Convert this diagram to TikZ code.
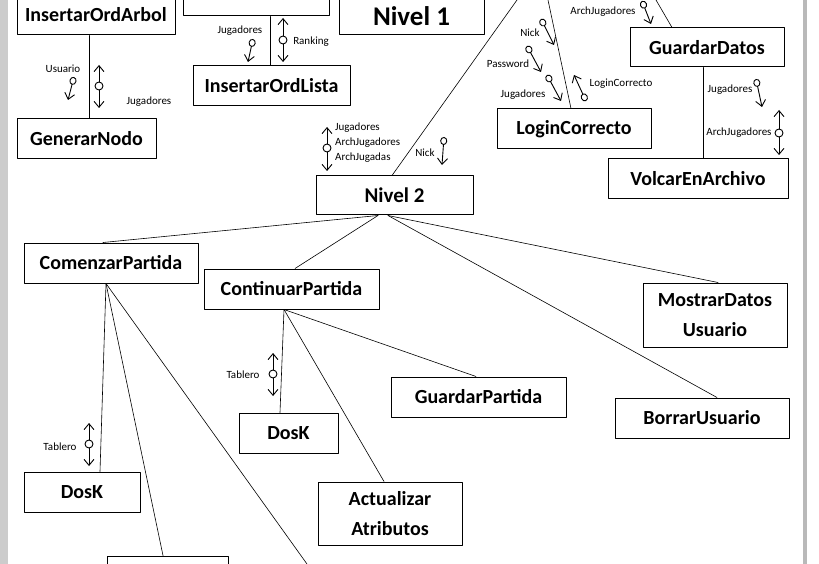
\documentclass[tikz,border=0pt]{standalone}
\usepackage{fontspec}
\setmainfont{Carlito}
\usetikzlibrary{arrows.meta}

\tikzset{
  caja/.style={draw, line width=1pt, inner sep=0pt, align=center,
    font=\fontsize{20}{30}\selectfont\bfseries},
  dato/.style={inner sep=0pt, font=\fontsize{11}{13}\selectfont},
  par/.style={line width=0.9pt,
    {Circle[open,length=8pt,width=7pt]}-{Straight Barb[length=6pt,width=10pt]}},
  doble/.style={line width=0.9pt,
    {Straight Barb[length=6pt,width=10pt]}-{Straight Barb[length=6pt,width=10pt]}},
  bola/.style={draw, fill=white, circle, inner sep=0pt, minimum size=8pt, line width=0.9pt},
  rama/.style={line width=0.6pt}
}

\begin{document}
\begin{tikzpicture}[x=1pt, y=-1pt, line join=round, line cap=round]
\useasboundingbox (0,0) rectangle (819,564);
\clip (0,0) rectangle (819,564);
% bordes de la pagina
\fill[gray!40] (0,0) rectangle (8,564);
\fill[gray!55] (803,0) rectangle (807,564);

% cajas de arriba
\node[caja, minimum width=158pt, minimum height=40pt] (arbol) at (96,15) {InsertarOrdArbol};
\node[caja, minimum width=146pt, minimum height=40pt] (arriba) at (256,-4) {};
\node[caja, minimum width=145pt, minimum height=38pt, font=\fontsize{27}{30}\selectfont\bfseries] (nivel1) at (411.5,16) {Nivel 1};
\node[caja, minimum width=157pt, minimum height=40pt] (lista) at (271.5,86) {InsertarOrdLista};
\node[caja, minimum width=139pt, minimum height=40pt] (nodo) at (86.5,139) {GenerarNodo};
\node[caja, minimum width=157pt, minimum height=39pt, font=\fontsize{21}{30}\selectfont\bfseries] (nivel2) at (394.5,195.5) {Nivel 2};
\node[caja, minimum width=154pt, minimum height=40pt] (login) at (574,129) {LoginCorrecto};
\node[caja, minimum width=154pt, minimum height=39pt] (guardar) at (707,47.5) {GuardarDatos};
\node[caja, minimum width=180pt, minimum height=40pt] (volcar) at (698,179) {VolcarEnArchivo};

% cajas de abajo
\node[caja, minimum width=174pt, minimum height=40pt] (comenzar) at (111,263) {ComenzarPartida};
\node[caja, minimum width=175pt, minimum height=40pt] (continuar) at (291.5,289) {ContinuarPartida};
\node[caja, minimum width=144pt, minimum height=64pt] (mostrar) at (715,315) {MostrarDatos\\Usuario};
\node[caja, minimum width=174pt, minimum height=40pt] (borrar) at (702,418) {BorrarUsuario};
\node[caja, minimum width=175pt, minimum height=40pt] (guardarp) at (478.5,397) {GuardarPartida};
\node[caja, minimum width=99pt, minimum height=40pt] (dosk2) at (288.5,433) {DosK};
\node[caja, minimum width=144pt, minimum height=63pt] (actualizar) at (390,513.5) {Actualizar\\Atributos};
\node[caja, minimum width=116pt, minimum height=40pt] (dosk1) at (82,492) {DosK};
\node[caja, minimum width=121pt, minimum height=40pt] (abajo) at (167.5,576) {};

% extremos sueltos
\coordinate (finN2) at (517,0);
\coordinate (finLogin) at (548,0);
\coordinate (finGuardar) at (656,0);
\coordinate (finC) at (307,564);

% ramas
\draw[rama] ([xshift=-7pt]arbol.south) -- ([xshift=2.5pt]nodo.north);
\draw[rama] ([xshift=14pt]arriba.south) -- ([xshift=-1.5pt]lista.north);
\draw[rama] ([xshift=-4pt]guardar.south) -- ([xshift=5pt]volcar.north);
\draw[rama] ([xshift=-2.5pt]nivel2.north) -- (finN2);
\draw[rama] ([xshift=-3pt]login.north) -- (finLogin);
\draw[rama] ([xshift=-35pt]guardar.north) -- (finGuardar);
\draw[rama] ([xshift=-16.5pt]nivel2.south) -- ([xshift=-8pt]comenzar.north);
\draw[rama] ([xshift=-16.5pt]nivel2.south) -- ([xshift=3.5pt]continuar.north);
\draw[rama] ([xshift=-6.5pt]nivel2.south) -- ([xshift=3pt]mostrar.north);
\draw[rama] ([xshift=-6.5pt]nivel2.south) -- ([xshift=15pt]borrar.north);
\draw[rama] ([xshift=-7.5pt]continuar.south) -- ([xshift=-8.5pt]dosk2.north);
\draw[rama] ([xshift=-7.5pt]continuar.south) -- ([xshift=-6pt]actualizar.north);
\draw[rama] ([xshift=-7.5pt]continuar.south) -- ([xshift=-2.5pt]guardarp.north);
\draw[rama] ([xshift=-5pt]comenzar.south) -- ([xshift=18pt]dosk1.north);
\draw[rama] ([xshift=-5pt]comenzar.south) -- ([xshift=-4.5pt]abajo.north);
\draw[rama] ([xshift=-5pt]comenzar.south) -- (finC);

% parametros
\draw[par] (74,77) -- (68,100);
\node[dato] (d1) at (63,69) {Usuario};
\draw[doble] (99,65) -- (99,108);
\node[bola] (b1) at (99,86) {};
\node[dato] (d2) at (149,102) {Jugadores};
\draw[par] (253,39) -- (248,62);
\node[dato] (d3) at (240,31) {Jugadores};
\draw[doble] (283,18) -- (283,62);
\node[bola] (b2) at (283,40) {};
\node[dato] (d4) at (311,42) {Ranking};
\draw[doble] (327,127) -- (327,171);
\node[bola] (b3) at (327,148) {};
\node[dato, anchor=west] (d5) at (335,128) {Jugadores};
\node[dato, anchor=west] (d6) at (335,143) {ArchJugadores};
\node[dato, anchor=west] (d7) at (335,158) {ArchJugadas};
\draw[par] (444,137) -- (442,165);
\node[dato] (d8) at (425,153) {Nick};
\draw[par] (642,1) -- (651,24);
\node[dato] (d9) at (603,12) {ArchJugadores};
\draw[par] (541,19) -- (554,45);
\node[dato] (d10) at (530,33) {Nick};
\draw[par] (527,46) -- (541,72);
\node[dato] (d11) at (508,64) {Password};
\draw[par] (547,75) -- (561,101);
\node[dato] (d12) at (523,95) {Jugadores};
\draw[par] (586,101) -- (574,75);
\node[dato] (d13) at (621,84) {LoginCorrecto};
\draw[par] (756,79) -- (762,107);
\node[dato] (d14) at (730,90) {Jugadores};
\draw[doble] (779,110) -- (779,155);
\node[bola] (b4) at (779,133) {};
\node[dato] (d15) at (739,133) {ArchJugadores};
\draw[doble] (273,353) -- (273,396);
\node[bola] (b5) at (273,374) {};
\node[dato] (d16) at (243,375) {Tablero};
\draw[doble] (89,423) -- (89,466);
\node[bola] (b6) at (89,444) {};
\node[dato] (d17) at (60,447) {Tablero};
\end{tikzpicture}
\end{document}
